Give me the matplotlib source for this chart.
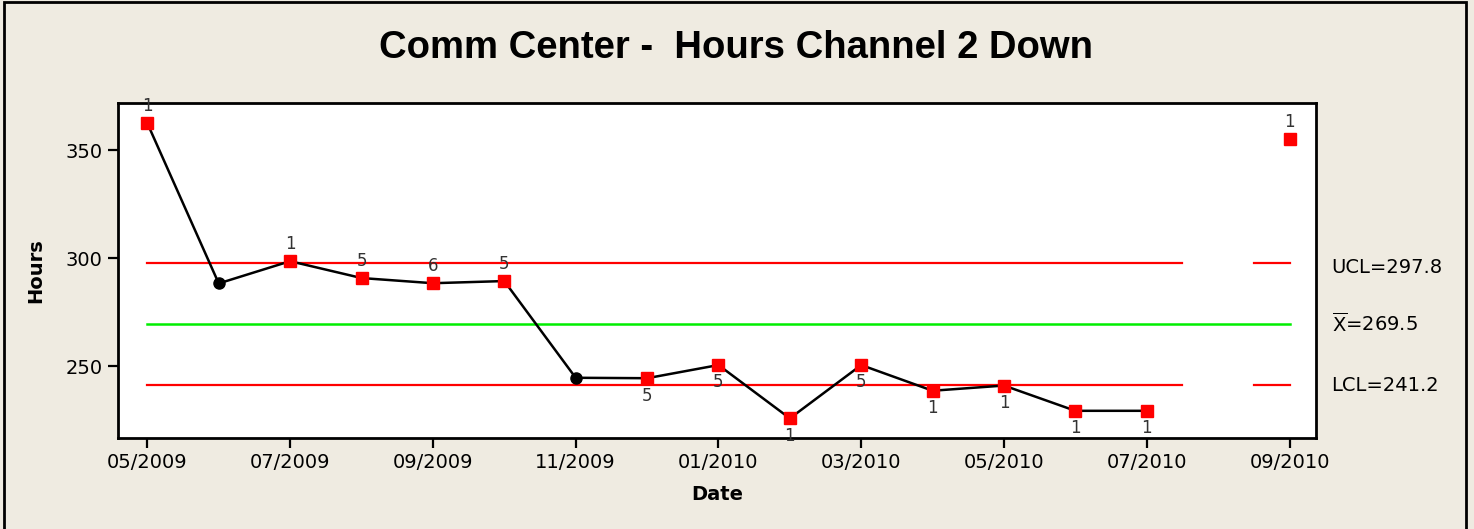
import matplotlib.pyplot as plt
import matplotlib.patches as patches
import numpy as np

# monthly data, 05/2009 .. 09/2010 (08/2010 missing)
months = ["05/2009", "06/2009", "07/2009", "08/2009", "09/2009", "10/2009",
          "11/2009", "12/2009", "01/2010", "02/2010", "03/2010", "04/2010",
          "05/2010", "06/2010", "07/2010", "08/2010", "09/2010"]
hours = [362.5, 288.3, 298.6, 290.8, 288.4, 289.4, 244.6, 244.4, 250.5,
         225.8, 250.5, 238.6, 241.0, 229.3, 229.3, np.nan, 355.1]
# test flags (None = in control)
flags = ["1", None, "1", "5", "6", "5", None, "5", "5", "1", "5", "1",
         "1", "1", "1", None, "1"]
flag_above = [True, False, True, True, True, True, False, False, False,
              False, False, False, False, False, False, False, True]
tick_months = months[::2]

ucl = 297.8
center = 269.5
lcl = 241.2

bg = "#EFEBE1"
fig = plt.figure(figsize=(14.74, 5.29), dpi=100, facecolor=bg)
ax = fig.add_axes([0.0801, 0.172, 0.8127, 0.633])
ax.set_facecolor("white")

x = np.arange(len(months))
y = np.array(hours, dtype=float)

# control limits (broken after 07/2010)
for seg in [(0, 14.5), (15.5, 16)]:
    ax.plot(seg, [ucl, ucl], color="red", lw=1.6, zorder=1)
    ax.plot(seg, [lcl, lcl], color="red", lw=1.6, zorder=1)
ax.plot([0, 16], [center, center], color="#00EE00", lw=1.8, zorder=1)

ax.plot(x, y, color="black", lw=1.8, zorder=2)

for i in range(len(months)):
    if np.isnan(y[i]):
        continue
    if flags[i] is None:
        ax.plot(x[i], y[i], "o", color="black", ms=8, zorder=3)
    else:
        ax.plot(x[i], y[i], "s", color="red", ms=9, zorder=3)
        if flag_above[i]:
            ax.annotate(flags[i], (x[i], y[i]), xytext=(0, 6),
                        textcoords="offset points", ha="center", va="bottom",
                        fontsize=12, color="#333333")
        else:
            ax.annotate(flags[i], (x[i], y[i]), xytext=(0, -6),
                        textcoords="offset points", ha="center", va="top",
                        fontsize=12, color="#333333")

ax.set_xlim(-0.41, 16.37)
ax.set_ylim(216.7, 371.8)
ax.set_xticks(x[::2])
ax.set_xticklabels(tick_months)
ax.set_yticks([250, 300, 350])
ax.tick_params(direction="out", length=7, width=1.6, labelsize=14,
               colors="black", pad=4)
for s in ax.spines.values():
    s.set_linewidth(2)

ax.set_xlabel("Date", fontsize=14, fontweight="bold", labelpad=9)
ax.set_ylabel("Hours", fontsize=14, fontweight="bold", labelpad=15)

tr = ax.get_yaxis_transform()
ax.text(1.013, ucl - 2, "UCL=297.8", transform=tr, va="center", ha="left", fontsize=14)
ax.text(1.013, center, r"$\overline{\mathrm{X}}$=269.5", transform=tr, va="center",
        ha="left", fontsize=14)
ax.text(1.013, lcl, "LCL=241.2", transform=tr, va="center", ha="left", fontsize=14)

fig.text(0.499, 0.91, "Comm Center -  Hours Channel 2 Down", ha="center", va="center",
         fontsize=27.5, fontweight="bold", family="Liberation Sans")

border = patches.Rectangle((4 / 1474, -0.1), (1466 - 4) / 1474, 1.097,
                           transform=fig.transFigure, fill=False,
                           edgecolor="black", lw=2)
fig.patches.append(border)

fig.savefig("out.png", dpi=100, facecolor=bg)
